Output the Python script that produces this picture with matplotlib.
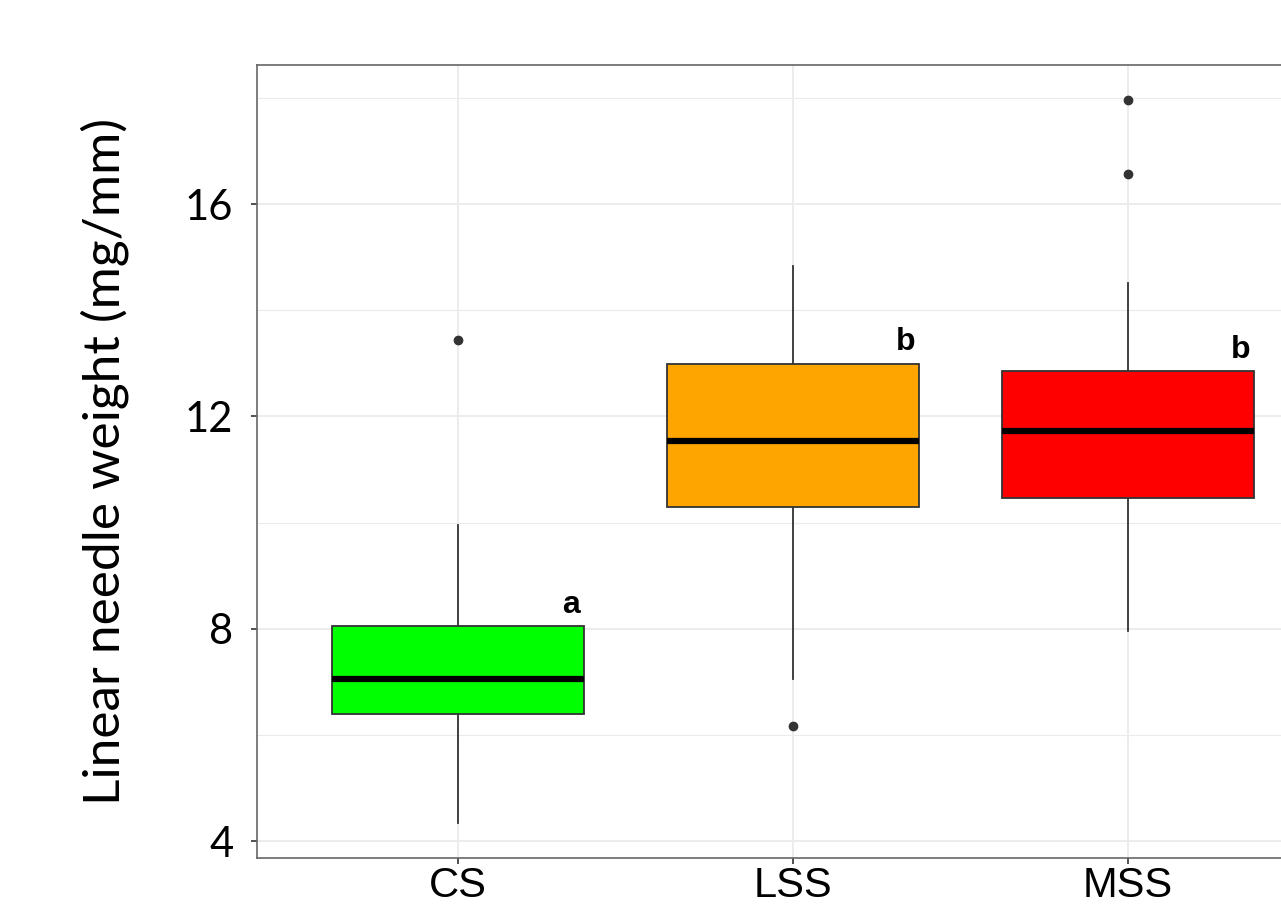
import matplotlib
matplotlib.use("Agg")
import matplotlib.pyplot as plt
from matplotlib.ticker import MultipleLocator

# =========================================================
# data
# =========================================================
groups = ["CS", "LSS", "MSS"]
colors = ["#00FF00", "#FFA500", "#FF0000"]
whis_lo = [4.34, 7.05, 7.96]
q1 = [6.39, 10.29, 10.46]
median = [7.05, 11.54, 11.72]
q3 = [8.05, 12.99, 12.85]
whis_hi = [9.95, 14.83, 14.51]
outliers = [[13.44], [6.17], [16.57, 17.96]]
letters = ["a", "b", "b"]

# =========================================================
# plotting
# =========================================================
fig = plt.figure(figsize=(12.81, 9.13), dpi=100)
ax = fig.add_axes([257 / 1281, 1 - 858 / 913, 1072 / 1281, 793 / 913])

stats = []
for i, g in enumerate(groups):
    stats.append(dict(label=g, whislo=whis_lo[i], q1=q1[i], med=median[i],
                      q3=q3[i], whishi=whis_hi[i], fliers=outliers[i]))

bp = ax.bxp(stats, positions=[1, 2, 3], widths=0.75, patch_artist=True,
            showcaps=False,
            boxprops=dict(edgecolor="#333333", linewidth=1.3),
            medianprops=dict(color="black", linewidth=4.5, solid_capstyle="butt"),
            whiskerprops=dict(color="#333333", linewidth=1.3),
            flierprops=dict(marker="o", markerfacecolor="#333333",
                            markeredgecolor="#333333", markersize=6))
for patch, c in zip(bp["boxes"], colors):
    patch.set_facecolor(c)
for b in bp["boxes"]:
    b.set_zorder(3)
for m in bp["medians"]:
    m.set_zorder(4)

# significance letters
for i, lab in enumerate(letters):
    ax.text(i + 1 + 0.375 - 0.01, q3[i] + 0.12, lab, ha="right", va="bottom",
            fontsize=23, fontweight="bold", family="Liberation Sans")

ax.set_xlim(0.4, 3.6)
ax.set_ylim(3.68, 18.62)
ax.yaxis.set_major_locator(MultipleLocator(4))
ax.yaxis.set_minor_locator(MultipleLocator(2))
ax.set_xticks([1, 2, 3])
ax.set_xticklabels(groups, family="Liberation Sans", fontsize=30)

ax.grid(True, which="major", color="#EBEBEB", linewidth=1.3, zorder=0)
ax.grid(True, which="minor", axis="y", color="#EBEBEB", linewidth=0.8, zorder=0)
ax.set_axisbelow(True)

for s in ax.spines.values():
    s.set_color("#666666")
    s.set_linewidth(1.2)

ax.tick_params(axis="both", which="major", length=4, width=1.2, color="#333333")
ax.tick_params(axis="y", which="minor", length=0)
ax.tick_params(axis="y", labelsize=30, pad=13)
ax.tick_params(axis="x", pad=2)
for t in ax.get_yticklabels():
    t.set_family("Lato")

ax.set_ylabel("Linear needle weight (mg/mm)", family="Lato", fontsize=37, labelpad=40)

plt.savefig("out.png", dpi=100)
